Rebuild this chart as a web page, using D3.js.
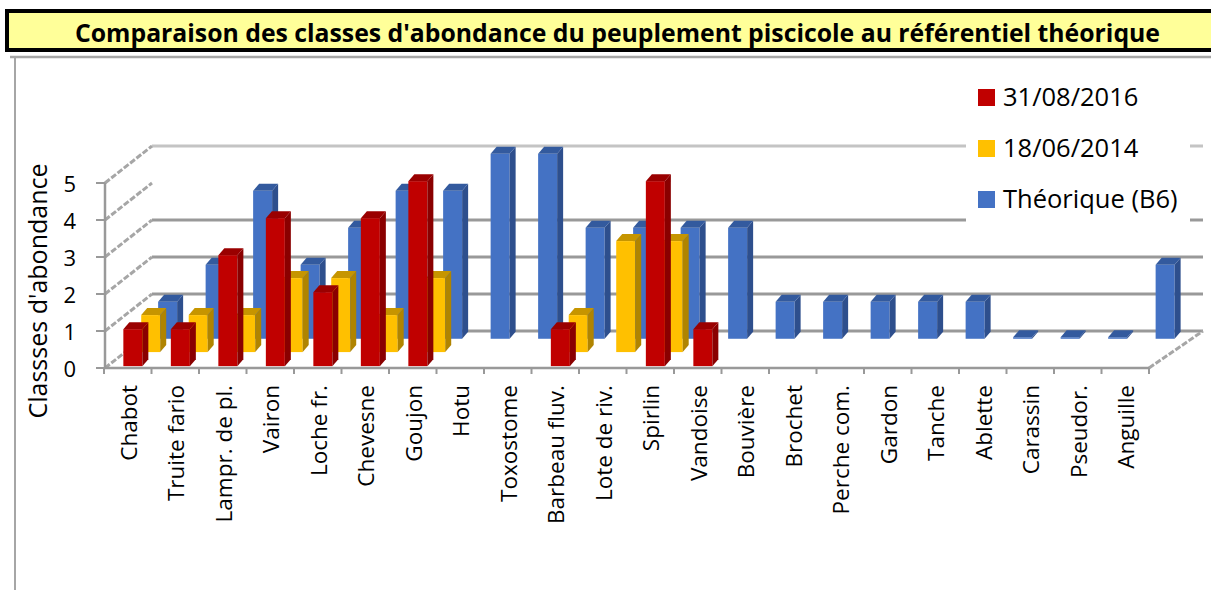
<!DOCTYPE html>
<html>
<head>
<meta charset="utf-8">
<script src="https://cdnjs.cloudflare.com/ajax/libs/d3/7.8.5/d3.min.js"></script>
<style>
    body { margin: 0; background: #fff; }
    svg { display: block; font-family: "Open Sans", "Noto Sans", sans-serif; }
    .label { fill: #000; }
</style>
</head>
<body>
<svg width="1211" height="590"></svg>
<script>
// data (null = no bar drawn)
const categories = ["Chabot", "Truite fario", "Lampr. de pl.", "Vairon", "Loche fr.", "Chevesne",
    "Goujon", "Hotu", "Toxostome", "Barbeau fluv.", "Lote de riv.", "Spirlin", "Vandoise",
    "Bouvière", "Brochet", "Perche com.", "Gardon", "Tanche", "Ablette", "Carassin", "Pseudor.", "Anguille"];
const values2016 = [1, 1, 3, 4, 2, 4, 5, null, null, 1, null, 5, 1,
    null, null, null, null, null, null, null, null, null];
const values2014 = [1, 1, 1, 2, 2, 1, 2, null, null, 1, 3, 3, null,
    null, null, null, null, null, null, null, null, null];
const valuesTheo = [1, 2, 4, 2, 3, 4, 4, 5, 5, 3, 3, 3, 3,
    1, 1, 1, 1, 1, 0, 0, 0, 2];
const seriesNames = ["31/08/2016", "18/06/2014", "Théorique (B6)"];
const yTicks = [0, 1, 2, 3, 4, 5];

const svg = d3.select("svg"),
    width = +svg.attr("width"),
    height = +svg.attr("height");

const frontColors = ["#c00000", "#ffc000", "#4472c4"],
    sideColors = ["#8a0000", "#b08400", "#2e4f8d"],
    topColors = ["#9a0000", "#c69500", "#335a9e"];

// front plane scales
const x = d3.scaleBand().domain(categories).range([104, 1149]);
const y = d3.scaleLinear().domain([0, 5]).range([368, 183]);
// depth: 0 = front edge of floor, 1 = back wall
const depthY = d3.scaleLinear().domain([0, 1]).range([0, 37]);
const depthX = d3.scaleLinear().domain([0, 1]).range([0, 47]);
const rowDepth = [0.05, 0.43, 0.79];

const barW = 19, barDx = 6, barDy = 7;

// outer chart area border
svg.append("line")
    .attr("x1", 10).attr("x2", width).attr("y1", 57).attr("y2", 57)
    .attr("stroke", "#a6a6a6").attr("stroke-width", 2.5);
svg.append("line")
    .attr("x1", 15).attr("x2", 15).attr("y1", 57).attr("y2", height)
    .attr("stroke", "#a6a6a6").attr("stroke-width", 2);

// walls
const walls = svg.append("g").attr("class", "walls");
const xLeft = x.range()[0] + 1, xRight = x.range()[1];
const backLeft = xLeft + depthX(1), backRight = xRight + 54;

// back wall grid (the 4 line is not drawn in the original)
walls.selectAll("line.back")
    .data(yTicks.filter(function(t) { return t !== 4; }))
    .enter().append("line")
    .attr("class", "back")
    .attr("x1", backLeft).attr("x2", backRight)
    .attr("y1", function(d) { return y(d) - depthY(1); })
    .attr("y2", function(d) { return y(d) - depthY(1); })
    .attr("stroke", function(d) { return d === 5 ? "#c4c4c4" : "#999"; })
    .attr("stroke-width", 3);

// side wall grid
walls.selectAll("line.side")
    .data(yTicks)
    .enter().append("line")
    .attr("class", "side")
    .attr("x1", xLeft).attr("y1", function(d) { return y(d); })
    .attr("x2", backLeft).attr("y2", function(d) { return y(d) - depthY(1); })
    .attr("stroke", "#a6a6a6").attr("stroke-width", 3)
    .attr("stroke-dasharray", "6 2");

// floor right edge
walls.append("line")
    .attr("x1", xRight).attr("y1", y(0))
    .attr("x2", backRight).attr("y2", y(0) - depthY(1))
    .attr("stroke", "#a6a6a6").attr("stroke-width", 3)
    .attr("stroke-dasharray", "6 2");

// bars, back row first
const seriesValues = [values2016, values2014, valuesTheo];
const bars = svg.append("g").attr("class", "bars");

[2, 1, 0].forEach(function(s) {
    const rows = categories.map(function(c, i) { return { cat: c, v: seriesValues[s][i] }; })
        .filter(function(d) { return d.v !== null; });

    const g = bars.append("g")
        .selectAll("g")
        .data(rows)
        .enter().append("g")
        .attr("transform", function(d) {
            return "translate(" + (x(d.cat) + 17 + depthX(rowDepth[s])) + "," + (-depthY(rowDepth[s])) + ")";
        });

    function yt(d) { return Math.min(y(d.v), y(0) - 1.5); }

    g.append("rect")
        .attr("x", 0)
        .attr("y", yt)
        .attr("width", barW)
        .attr("height", function(d) { return y(0) - yt(d); })
        .attr("fill", frontColors[s]);

    g.append("polygon")
        .attr("points", function(d) {
            const t = yt(d), b = y(0);
            return [[barW, t], [barW + barDx, t - barDy], [barW + barDx, b - barDy], [barW, b]].join(" ");
        })
        .attr("fill", sideColors[s]);

    g.append("polygon")
        .attr("points", function(d) {
            const t = yt(d);
            return [[0, t], [barDx, t - barDy], [barW + barDx, t - barDy], [barW, t]].join(" ");
        })
        .attr("fill", topColors[s]);
});

// axes
const axes = svg.append("g").attr("class", "axes");

axes.append("line")
    .attr("x1", xLeft).attr("x2", xLeft).attr("y1", y(5)).attr("y2", y(0))
    .attr("stroke", "#999").attr("stroke-width", 2.5);
axes.append("line")
    .attr("x1", xLeft).attr("x2", xRight).attr("y1", y(0)).attr("y2", y(0))
    .attr("stroke", "#999").attr("stroke-width", 2.5);

axes.selectAll("line.ytick")
    .data(yTicks)
    .enter().append("line")
    .attr("class", "ytick")
    .attr("x1", 96).attr("x2", xLeft)
    .attr("y1", function(d) { return y(d); })
    .attr("y2", function(d) { return y(d); })
    .attr("stroke", "#999").attr("stroke-width", 2);

axes.selectAll("text.ylab")
    .data(yTicks)
    .enter().append("text")
    .attr("class", "label ylab")
    .attr("x", 76)
    .attr("y", function(d) { return y(d) + 9; })
    .attr("text-anchor", "end")
    .style("font-size", "22px")
    .text(function(d) { return d; });

axes.selectAll("line.xtick")
    .data(categories.concat(["end"]))
    .enter().append("line")
    .attr("class", "xtick")
    .attr("x1", function(d, i) { return x.range()[0] + i * x.step(); })
    .attr("x2", function(d, i) { return x.range()[0] + i * x.step(); })
    .attr("y1", y(0)).attr("y2", y(0) + 6)
    .attr("stroke", "#999").attr("stroke-width", 2);

axes.selectAll("text.xlab")
    .data(categories)
    .enter().append("text")
    .attr("class", "label xlab")
    .attr("transform", function(d) {
        return "translate(" + (x(d) + x.bandwidth() / 2 + 9) + ",385) rotate(-90)";
    })
    .attr("text-anchor", "end")
    .style("font-size", "22.5px")
    .text(function(d) { return d; });

// y axis title
svg.append("text")
    .attr("class", "label")
    .attr("transform", "translate(47,291) rotate(-90)")
    .attr("text-anchor", "middle")
    .style("font-size", "25px")
    .text("Classses d'abondance");

// legend, legend order is front to back
const legend = svg.append("g").attr("class", "legend");
legend.append("rect")
    .attr("x", 966).attr("y", 70).attr("width", 224).attr("height", 156)
    .attr("fill", "#fff");

const entries = legend.selectAll("g")
    .data(seriesNames)
    .enter().append("g")
    .attr("transform", function(d, i) { return "translate(978," + (89 + i * 51) + ")"; });

entries.append("rect")
    .attr("width", 17).attr("height", 17)
    .attr("fill", function(d, i) { return frontColors[i]; });

entries.append("text")
    .attr("class", "label")
    .attr("x", 25).attr("y", 17)
    .style("font-size", "25.5px")
    .text(function(d) { return d; });

// title box
svg.append("rect")
    .attr("x", 7).attr("y", 11).attr("width", width + 10).attr("height", 39)
    .attr("fill", "#ffff99").attr("stroke", "#000").attr("stroke-width", 4);

svg.append("text")
    .attr("x", 75).attr("y", 41.5)
    .attr("textLength", 1085)
    .attr("lengthAdjust", "spacingAndGlyphs")
    .style("font-size", "25px")
    .style("font-weight", "bold")
    .text("Comparaison des classes d'abondance du peuplement piscicole au référentiel théorique");
</script>
</body>
</html>
